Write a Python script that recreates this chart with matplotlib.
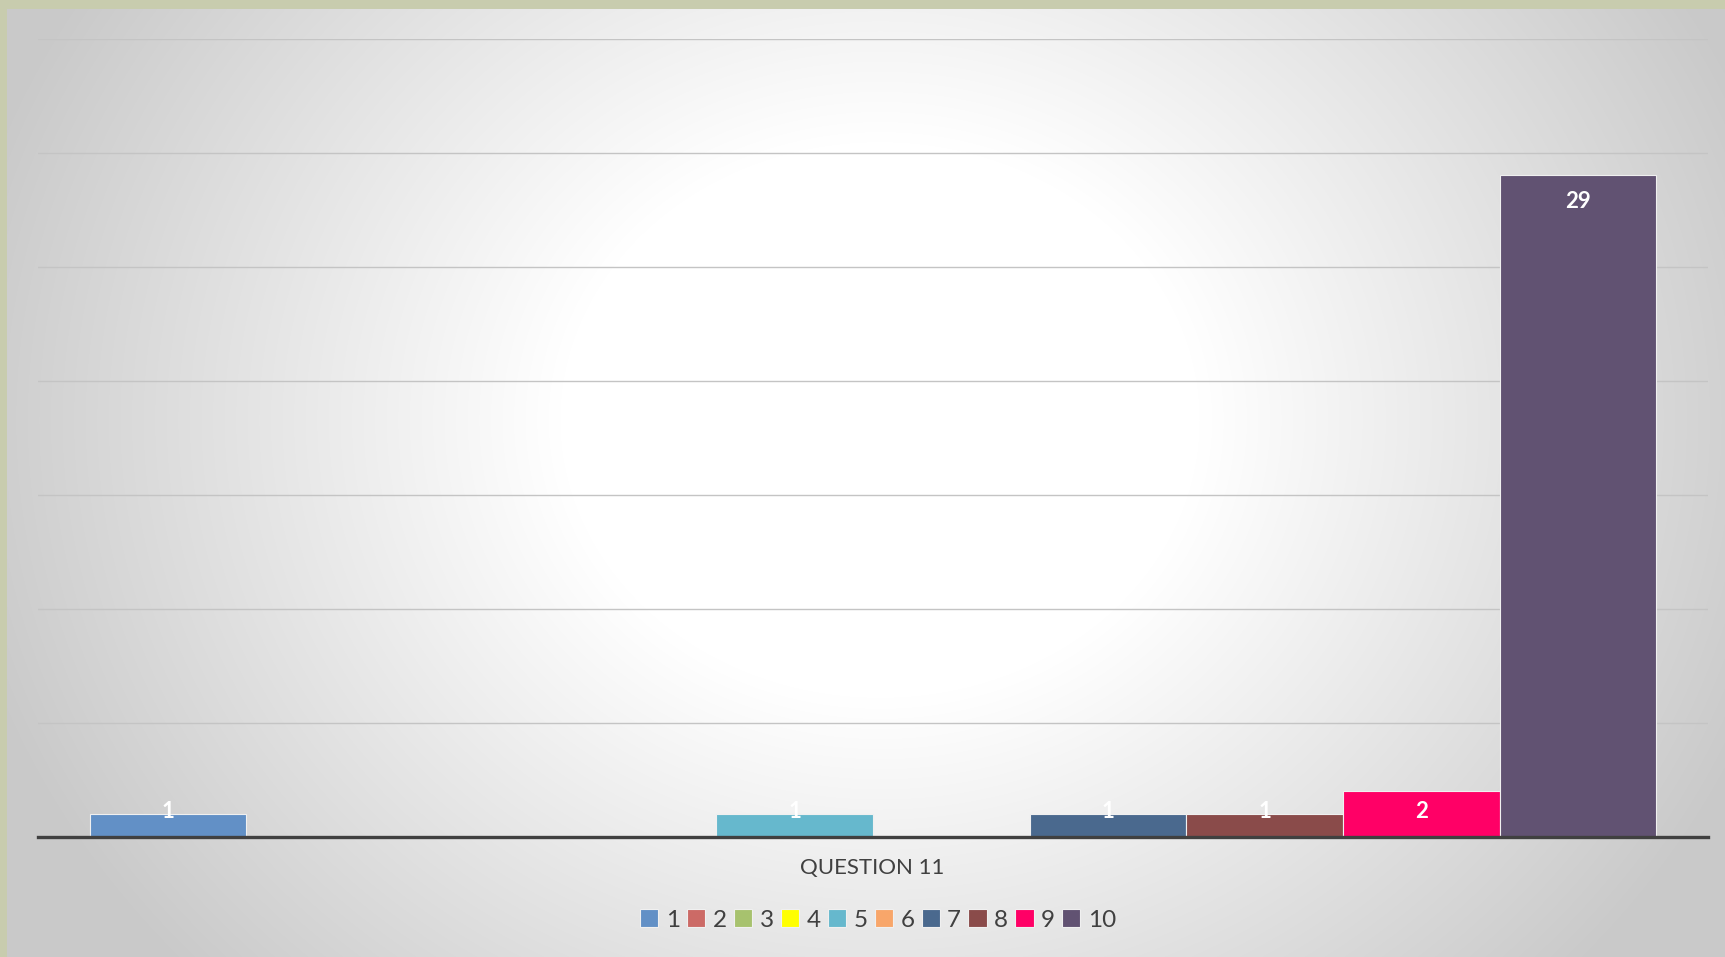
import matplotlib
matplotlib.use('Agg')
import matplotlib.pyplot as plt
import numpy as np

# series 1..10 for the single category "QUESTION 11"
series = ['1', '2', '3', '4', '5', '6', '7', '8', '9', '10']
counts = [1, 0, 0, 0, 1, 0, 1, 1, 2, 29]
colors = ['#6290C6', '#CC6A66', '#A7C26E', '#FFFF00', '#66B8CD',
          '#F8A66A', '#4A698E', '#8A4B4A', '#FF0066', '#615272']
category = 'QUESTION 11'

plt.rcParams['font.family'] = ['Lato', 'DejaVu Sans']
INK = '#404040'

W, H = 1725, 957
fig = plt.figure(figsize=(W / 100, H / 100), dpi=100)
fig.patch.set_facecolor('#c8ccae')

# panel with radial gradient (white centre, grey edges)
px0, py_top = 7, 9
bg = fig.add_axes([px0 / W, 0, 1 - px0 / W, 1 - py_top / H])
yy, xx = np.mgrid[py_top:H, px0:W]
r = np.hypot((xx - 880) * 1.0, (yy - 420) * 1.15)
g = 1.0 - 0.21 * np.clip((r - 320) / 620, 0, 1)
bg.imshow(np.dstack([g, g, g]), aspect='auto', extent=(0, 1, 0, 1))
bg.set_axis_off()

ax = fig.add_axes([38 / W, 1 - 837 / H, (1708 - 38) / W, (837 - 38.5) / H])
ax.patch.set_alpha(0)

n = len(series)
w = 0.0938
x = (np.arange(n) - (n - 1) / 2) * w
for xi, v, c, lab in zip(x, counts, colors, series):
    ax.bar(xi, v, w, color=c, edgecolor='#f0f0f0', linewidth=0.8, label=lab, zorder=3)

ax.set_xlim(-0.5, 0.5)
ax.set_ylim(0, 35)
ax.set_yticks(np.arange(0, 36, 5))
ax.grid(axis='y', color='#c4c4c4', linewidth=1.0, zorder=0)
ax.tick_params(left=False, bottom=False, labelleft=False, labelbottom=False)
for s in ('top', 'right', 'left'):
    ax.spines[s].set_visible(False)
ax.spines['bottom'].set_color(INK)
ax.spines['bottom'].set_linewidth(2.4)
ax.spines['bottom'].set_zorder(4)

# value labels: inside end, kept within the plot area
pad = 26 / ((837 - 38.5) / 35)
for xi, v in zip(x, counts):
    if v > 0:
        ax.text(xi, max(v - pad, pad), str(v), ha='center', va='center',
                color='white', fontsize=16, fontweight='bold', zorder=5)

fig.text(872 / W, 1 - 868 / H, category, ha='center', va='center',
         fontsize=16, color=INK)

handles, labels = ax.get_legend_handles_labels()
leg = fig.legend(handles, labels, loc='center', bbox_to_anchor=(878 / W, 1 - 920 / H),
                 ncol=n, frameon=False, fontsize=17.5, handlelength=0.75, handleheight=0.75,
                 handletextpad=0.3, columnspacing=0.3, labelcolor=INK)

fig.savefig('out.png', dpi=100, facecolor=fig.get_facecolor())
